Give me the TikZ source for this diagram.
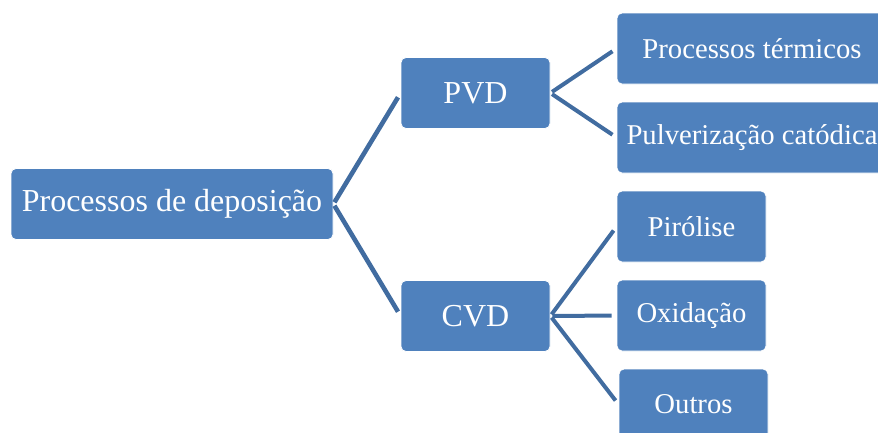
\documentclass[tikz,border=0pt]{standalone}
\usepackage{fontspec}
\setmainfont{Liberation Serif}
\usepackage{tikz}
\usetikzlibrary{arrows.meta,calc}

\definecolor{boxblue}{RGB}{79,129,189}
\definecolor{linkblue}{RGB}{65,108,160}

\begin{document}
\begin{tikzpicture}[x=1pt,y=-1pt,
    box/.style={rectangle,rounded corners=5pt,fill=boxblue,draw=white,line width=0.8pt,
                text=white,minimum height=71pt,inner sep=0pt,font=\fontsize{32}{36}\selectfont},
    leaf/.style={box,font=\fontsize{28.7}{33}\selectfont},
    link/.style={draw=linkblue,line width=4pt,shorten <=2pt,shorten >=5pt}]
  \useasboundingbox (0,0) rectangle (878,432);
  % level 0 and 1
  \node[box,minimum width=322pt] (dep) at (172,204) {Processos de deposição};
  \node[box,minimum width=149pt] (pvd) at (475.5,93) {PVD};
  \node[box,minimum width=149pt] (cvd) at (475.5,316) {CVD};
  % level 2
  \node[leaf,minimum width=270pt] (term) at (752,48.5) {Processos térmicos};
  \node[leaf,minimum width=270pt] (pulv) at (752,137.5) {Pulverização catódica};
  \node[leaf,minimum width=149pt] (piro) at (691.5,226.5) {Pirólise};
  \node[leaf,minimum width=149pt] (oxid) at (691.5,315.5) {Oxidação};
  \node[leaf,minimum width=149pt] (outr) at (693.5,404.5) {Outros};
  % connectors
  \foreach \a/\b in {dep/pvd,dep/cvd}
    \draw[link,line width=4.6pt] (\a.east) -- (\b.west);
  \foreach \a/\b in {pvd/term,pvd/pulv,cvd/piro,cvd/oxid,cvd/outr}
    \draw[link] (\a.east) -- (\b.west);
\end{tikzpicture}
\end{document}
